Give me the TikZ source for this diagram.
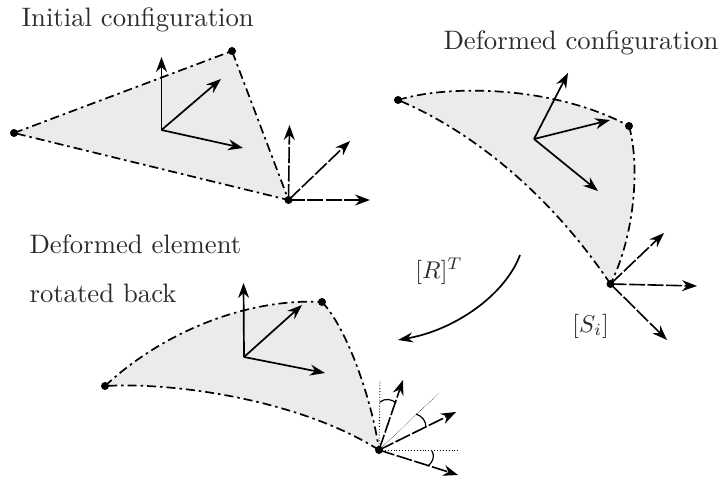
\documentclass[tikz,border=0pt]{standalone}
\usetikzlibrary{arrows.meta}
\definecolor{elemfill}{HTML}{EBEBEB}
\definecolor{labelink}{HTML}{2B2B2B}
\tikzset{
  edgeline/.style={line width=1.7pt,dash pattern=on 9pt off 4pt on 2.5pt off 4pt},
  solidaxis/.style={line width=1.7pt,-{Stealth[length=15pt,width=11pt,inset=5pt]}},
  dashaxis/.style={line width=1.6pt,dash pattern=on 16pt off 2.5pt,-{Stealth[length=15pt,width=11pt,inset=5pt]}},
  helper/.style={line width=0.9pt,dotted},
  ang/.style={line width=1.2pt},
  vertexdot/.style={circle,fill=black,inner sep=0pt,minimum size=8pt},
  caption/.style={inner sep=0pt,anchor=base west,scale=2.67,text=labelink},
  mathcap/.style={inner sep=0pt,anchor=base west,scale=2.42,text=labelink},
}
\begin{document}
\begin{tikzpicture}[x=1pt,y=-1pt]
\useasboundingbox (0,0) rectangle (719,476);
% element 1
\coordinate (a1) at (14,133); \coordinate (a2) at (232,51); \coordinate (a3) at (288.5,200);
\fill[elemfill] (a1)--(a2)--(a3)--cycle;
\draw[edgeline] (a1)--(a2)--(a3)--cycle;
\coordinate (c1) at (161.5,130);
\coordinate (c1u) at (161.5,57); \coordinate (c1d) at (221,79); \coordinate (c1r) at (243,148);
\draw[solidaxis] (c1)--(c1u); \draw[solidaxis] (c1)--(c1d); \draw[solidaxis] (c1)--(c1r);
\coordinate (d1u) at (289.5,125); \coordinate (d1d) at (350,141); \coordinate (d1r) at (370,200);
\draw[dashaxis] (a3)--(d1u); \draw[dashaxis] (a3)--(d1d); \draw[dashaxis] (a3)--(d1r);
\node[vertexdot] (n1) at (a1) {}; \node[vertexdot] (n2) at (a2) {}; \node[vertexdot] (n3) at (a3) {};
% element 2
\coordinate (b1) at (398,100); \coordinate (b2) at (629,126); \coordinate (b3) at (610.5,284);
\fill[elemfill] (b1) .. controls (450,84) and (555,86) .. (b2) .. controls (640,165) and (635,235) .. (b3) .. controls (545,187) and (465,128) .. (b1);
\draw[edgeline] (b1) .. controls (450,84) and (555,86) .. (b2);
\draw[edgeline] (b2) .. controls (640,165) and (635,235) .. (b3);
\draw[edgeline] (b3) .. controls (545,187) and (465,128) .. (b1);
\coordinate (c2) at (534,139);
\coordinate (c2u) at (568,73); \coordinate (c2d) at (610,120); \coordinate (c2r) at (598,191);
\draw[solidaxis] (c2)--(c2u); \draw[solidaxis] (c2)--(c2d); \draw[solidaxis] (c2)--(c2r);
\coordinate (d2u) at (664,233); \coordinate (d2d) at (697,286); \coordinate (d2r) at (667,340);
\draw[dashaxis] (b3)--(d2u); \draw[dashaxis] (b3)--(d2d); \draw[dashaxis] (b3)--(d2r);
\node[vertexdot] (m1) at (b1) {}; \node[vertexdot] (m2) at (b2) {}; \node[vertexdot] (m3) at (b3) {};
% element 3
\coordinate (e1) at (105,386); \coordinate (e2) at (322,302); \coordinate (e3) at (379,450);
\fill[elemfill] (e1) .. controls (165,330) and (250,298) .. (e2) .. controls (347,328) and (372,400) .. (e3) .. controls (300,400) and (175,382) .. (e1);
\draw[edgeline] (e1) .. controls (165,330) and (250,298) .. (e2);
\draw[edgeline] (e2) .. controls (347,328) and (372,400) .. (e3);
\draw[edgeline] (e3) .. controls (300,400) and (175,382) .. (e1);
\coordinate (c3) at (244,357);
\coordinate (c3u) at (243.5,283); \coordinate (c3d) at (302,305); \coordinate (c3r) at (325,373);
\draw[solidaxis] (c3)--(c3u); \draw[solidaxis] (c3)--(c3d); \draw[solidaxis] (c3)--(c3r);
\coordinate (h1) at (380,380); \coordinate (h2) at (439,393); \coordinate (h3) at (458,450);
\draw[helper] (e3)--(h1); \draw[line width=.5pt,densely dotted] (e3)--(h2); \draw[helper] (e3)--(h3);
\coordinate (d3u) at (403,380); \coordinate (d3d) at (456,412); \coordinate (d3r) at (458,475);
\draw[dashaxis] (e3)--(d3u); \draw[dashaxis] (e3)--(d3d); \draw[dashaxis] (e3)--(d3r);
\coordinate (a1s) at (380,402); \coordinate (a1e) at (396,403);
\draw[ang] (a1s) .. controls (385,398) and (392,399) .. (a1e);
\coordinate (a2s) at (416,414); \coordinate (a2e) at (426,427);
\draw[ang] (a2s) .. controls (422,416) and (426,421) .. (a2e);
\coordinate (a3s) at (432,451); \coordinate (a3e) at (428,466);
\draw[ang] (a3s) .. controls (435,456) and (433,462) .. (a3e);
\node[vertexdot] (k1) at (e1) {}; \node[vertexdot] (k2) at (e2) {}; \node[vertexdot] (k3) at (e3) {};
% rotation arrow
\coordinate (r1) at (520,255); \coordinate (r2) at (398,340);
\draw[line width=1.7pt,-{Stealth[length=15pt,width=10pt,inset=5pt]}] (r1) .. controls (505,295) and (455,330) .. (r2);
% labels
\node[caption] (t1) at (21,27) {Initial configuration};
\node[caption] (t2) at (443,50) {Deformed configuration};
\node[caption] (t3) at (29,253) {Deformed element};
\node[caption] (t4) at (29,302) {rotated back};
\node[mathcap] (t5) at (415,278) {$[R]^T$};
\node[mathcap] (t6) at (572,332) {$[S_i]$};
\end{tikzpicture}
\end{document}
